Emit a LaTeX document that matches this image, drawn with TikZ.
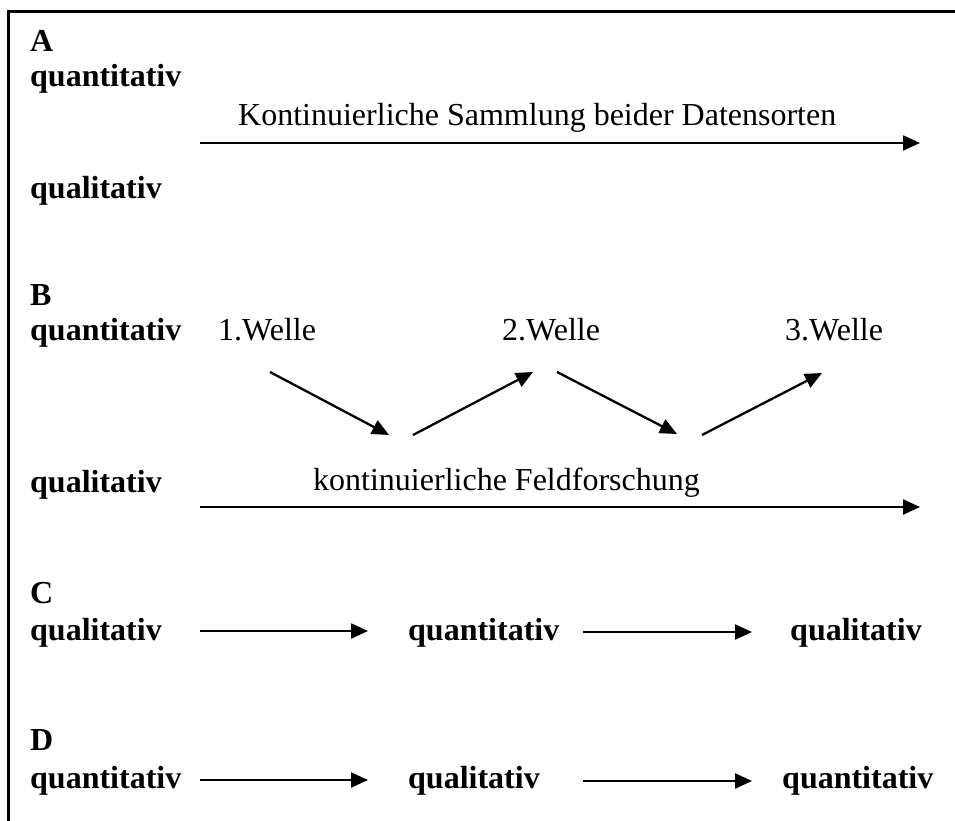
\documentclass[tikz,border=0pt]{standalone}
\usepackage{fontspec}
\setmainfont{Liberation Serif}
\usetikzlibrary{arrows.meta}

\tikzset{
    lab/.style={anchor=base west, inner sep=0pt, font=\fontsize{32}{38}\selectfont\bfseries},
    txt/.style={anchor=base west, inner sep=0pt, font=\fontsize{32}{38}\selectfont},
    pfeil/.style={line width=2.3pt, -{Triangle[length=17pt,width=15pt]}}
}

\begin{document}
\begin{tikzpicture}[x=1pt, y=-1pt]
    \useasboundingbox (0,0) rectangle (955,821);
    % frame
    \draw[line width=2.8pt] (8.5,821) -- (8.5,11.5) -- (955,11.5);

    % A
    \node[lab] (A) at (30,52) {A};
    \node[lab] (quantA) at (30,87) {quantitativ};
    \node[lab] (qualA) at (30,198) {qualitativ};
    \node[txt] (sammlung) at (238,126) {Kontinuierliche Sammlung beider Datensorten};
    \coordinate (a1) at (200,143);
    \coordinate (a2) at (920,143);
    \draw[pfeil] (a1) -- (a2);

    % B
    \node[lab] (B) at (30,305) {B};
    \node[lab] (quantB) at (30,340) {quantitativ};
    \foreach \x/\n in {218/1, 502/2, 785/3}
        \node[txt] (w\n) at (\x,340) {\n.Welle};
    \coordinate (top1) at (270,372);
    \coordinate (low1) at (389,435);
    \coordinate (up1) at (413,435);
    \coordinate (top2) at (533,372);
    \coordinate (top2b) at (557,372);
    \coordinate (low2) at (677,434);
    \coordinate (up2) at (702,435);
    \coordinate (top3) at (822,373);
    \draw[pfeil] (top1) -- (low1);
    \draw[pfeil] (up1) -- (top2);
    \draw[pfeil] (top2b) -- (low2);
    \draw[pfeil] (up2) -- (top3);
    \node[lab] (qualB) at (30,492) {qualitativ};
    \node[txt] (feld) at (313,490) {kontinuierliche Feldforschung};
    \coordinate (b1) at (200,507);
    \coordinate (b2) at (920,507);
    \draw[pfeil] (b1) -- (b2);

    % C
    \node[lab] (C) at (30,603) {C};
    \node[lab] (c1) at (30,640) {qualitativ};
    \node[lab] (c2) at (408,640) {quantitativ};
    \node[lab] (c3) at (790,640) {qualitativ};
    \coordinate (ca) at (200,631);
    \coordinate (cb) at (368,631);
    \coordinate (cc) at (583,632);
    \coordinate (cd) at (752,632);
    \draw[pfeil] (ca) -- (cb);
    \draw[pfeil] (cc) -- (cd);

    % D
    \node[lab] (D) at (30,750) {D};
    \node[lab] (d1) at (30,788) {quantitativ};
    \node[lab] (d2) at (408,788) {qualitativ};
    \node[lab] (d3) at (782,788) {quantitativ};
    \coordinate (da) at (200,780);
    \coordinate (db) at (368,780);
    \coordinate (dc) at (583,781);
    \coordinate (dd) at (752,781);
    \draw[pfeil] (da) -- (db);
    \draw[pfeil] (dc) -- (dd);
\end{tikzpicture}
\end{document}
